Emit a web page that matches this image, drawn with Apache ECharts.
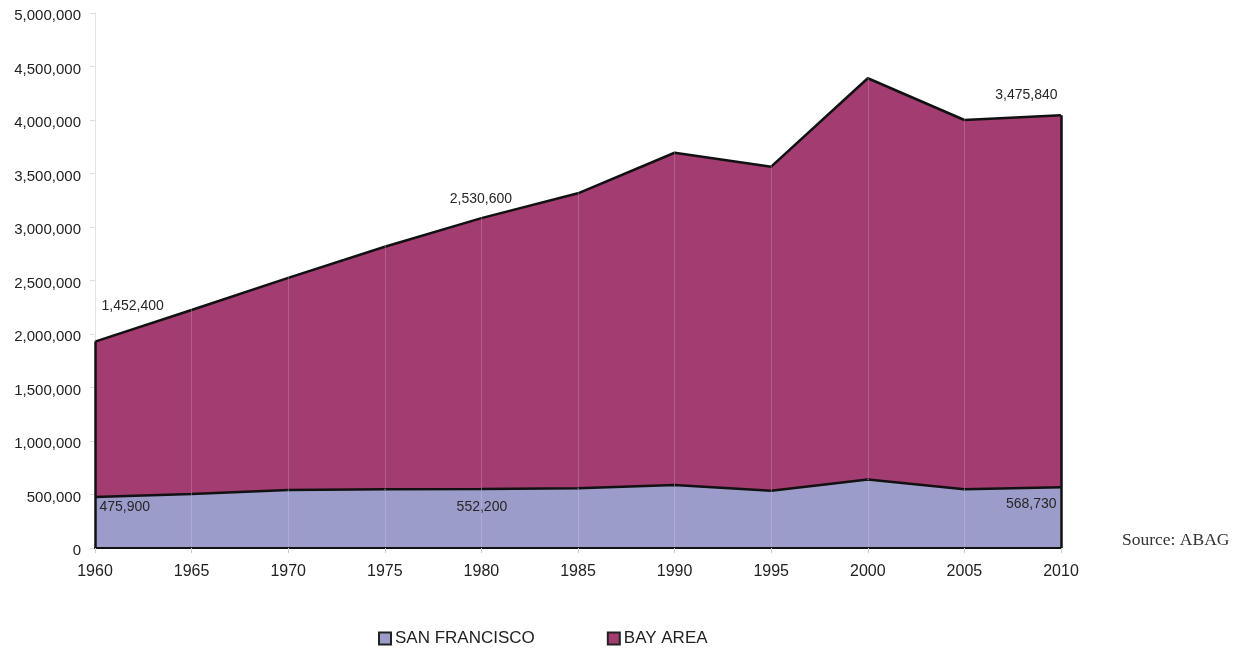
<!DOCTYPE html>
<html>
<head>
<meta charset="utf-8">
<script src="https://cdn.jsdelivr.net/npm/echarts@6/dist/echarts.min.js"></script>
<style>
html,body{margin:0;padding:0;background:#fff;}
#chart{width:1239px;height:649px;}
</style>
</head>
<body>
<div id="chart"></div>
<script>
// ---- data ----
var years = ['1960','1965','1970','1975','1980','1985','1990','1995','2000','2005','2010'];
var sanFrancisco = [475900, 505000, 542000, 550000, 552200, 558000, 589000, 536000, 640000, 548000, 568730];
var bayArea = [1452400, 1719000, 1983000, 2266000, 2530600, 2757000, 3105000, 3028000, 3750000, 3452000, 3475840];
var seriesNames = ['SAN FRANCISCO', 'BAY AREA'];
var labelledYears = ['1960', '1980', '2010'];
var sourceText = 'Source: ABAG';

var FONT = '"Liberation Sans", Arial, sans-serif';
var labelStyle = {
  '1960': {sf: {position: [5, 11], align: 'left'}, bay: {position: [7, -35], align: 'left'}},
  '1980': {sf: {position: [1, 19], align: 'center'}, bay: {position: [0, -18], align: 'center'}},
  '2010': {sf: {position: [-4, 17], align: 'right'}, bay: {position: [-3, -20], align: 'right'}}
};

function fmt(v) { return v.toLocaleString('en-US'); }

function buildData(values, key) {
  return values.map(function (v, i) {
    var yr = years[i];
    if (labelledYears.indexOf(yr) >= 0) {
      var ls = labelStyle[yr][key];
      return {
        value: v,
        label: {
          show: true,
          position: ls.position,
          align: ls.align,
          verticalAlign: 'middle',
          formatter: function () { return fmt(v); },
          fontFamily: FONT,
          fontSize: 14,
          color: '#262626'
        }
      };
    }
    return v;
  });
}

var totals = sanFrancisco.map(function (v, i) { return v + bayArea[i]; });
var firstIdx = 0, lastIdx = years.length - 1;

var chart = echarts.init(document.getElementById('chart'), null, {renderer: 'canvas'});
chart.setOption({
  animation: false,
  backgroundColor: '#fff',
  grid: {left: 95, right: 178, top: 13, bottom: 101},
  legend: {
    left: 373, top: 625,
    icon: 'rect', itemWidth: 12, itemHeight: 12, itemGap: 72,
    itemStyle: {borderColor: '#222', borderWidth: 2},
    textStyle: {fontFamily: FONT, fontSize: 17, color: '#222', padding: [0, 0, 0, -1]},
    data: seriesNames
  },
  xAxis: {
    type: 'category',
    data: years,
    boundaryGap: false,
    z: 3,
    axisLine: {show: true, lineStyle: {color: '#111', width: 2}},
    axisTick: {show: true, length: 5, lineStyle: {color: '#ccc'}},
    axisLabel: {fontFamily: FONT, fontSize: 16, color: '#222', margin: 16},
    splitLine: {show: true, lineStyle: {color: 'rgba(255,255,255,0.18)', width: 1}}
  },
  yAxis: {
    type: 'value',
    min: 0, max: 5000000, interval: 500000,
    axisLine: {show: true, lineStyle: {color: '#ddd', width: 1}},
    axisTick: {show: true, length: 5, lineStyle: {color: '#ddd'}},
    axisLabel: {margin: 14,
      formatter: function (v) { return '{v|' + fmt(v) + '}'; },
      rich: {v: {fontFamily: FONT, fontSize: 15, color: '#222', padding: [6, 0, 0, 0]}}},
    splitLine: {show: false}
  },
  series: [
    {
      name: seriesNames[0],
      type: 'line',
      stack: 'total',
      symbol: 'circle', symbolSize: 1, showSymbol: true,
      itemStyle: {color: '#9C9CCB'},
      lineStyle: {color: '#111', width: 2.5},
      areaStyle: {color: '#9C9CCB', opacity: 1},
      data: buildData(sanFrancisco, 'sf'),
      z: 2
    },
    {
      name: seriesNames[1],
      type: 'line',
      stack: 'total',
      symbol: 'circle', symbolSize: 1, showSymbol: true,
      itemStyle: {color: '#A33C70'},
      lineStyle: {color: '#111', width: 2.5},
      areaStyle: {color: '#A33C70', opacity: 1},
      data: buildData(bayArea, 'bay'),
      z: 1,
      markLine: {
        silent: true, symbol: 'none', label: {show: false},
        lineStyle: {color: '#111', width: 2.5, type: 'solid'},
        data: [
          [{coord: [years[firstIdx], 0]}, {coord: [years[firstIdx], totals[firstIdx]]}],
          [{coord: [years[lastIdx], 0]}, {coord: [years[lastIdx], totals[lastIdx]]}]
        ]
      }
    }
  ],
  graphic: [{
    type: 'text', left: 1122, top: 531,
    style: {text: sourceText, font: '17.5px "Liberation Serif", "DejaVu Serif", serif', fill: '#333'}
  }]
});
</script>
</body>
</html>
